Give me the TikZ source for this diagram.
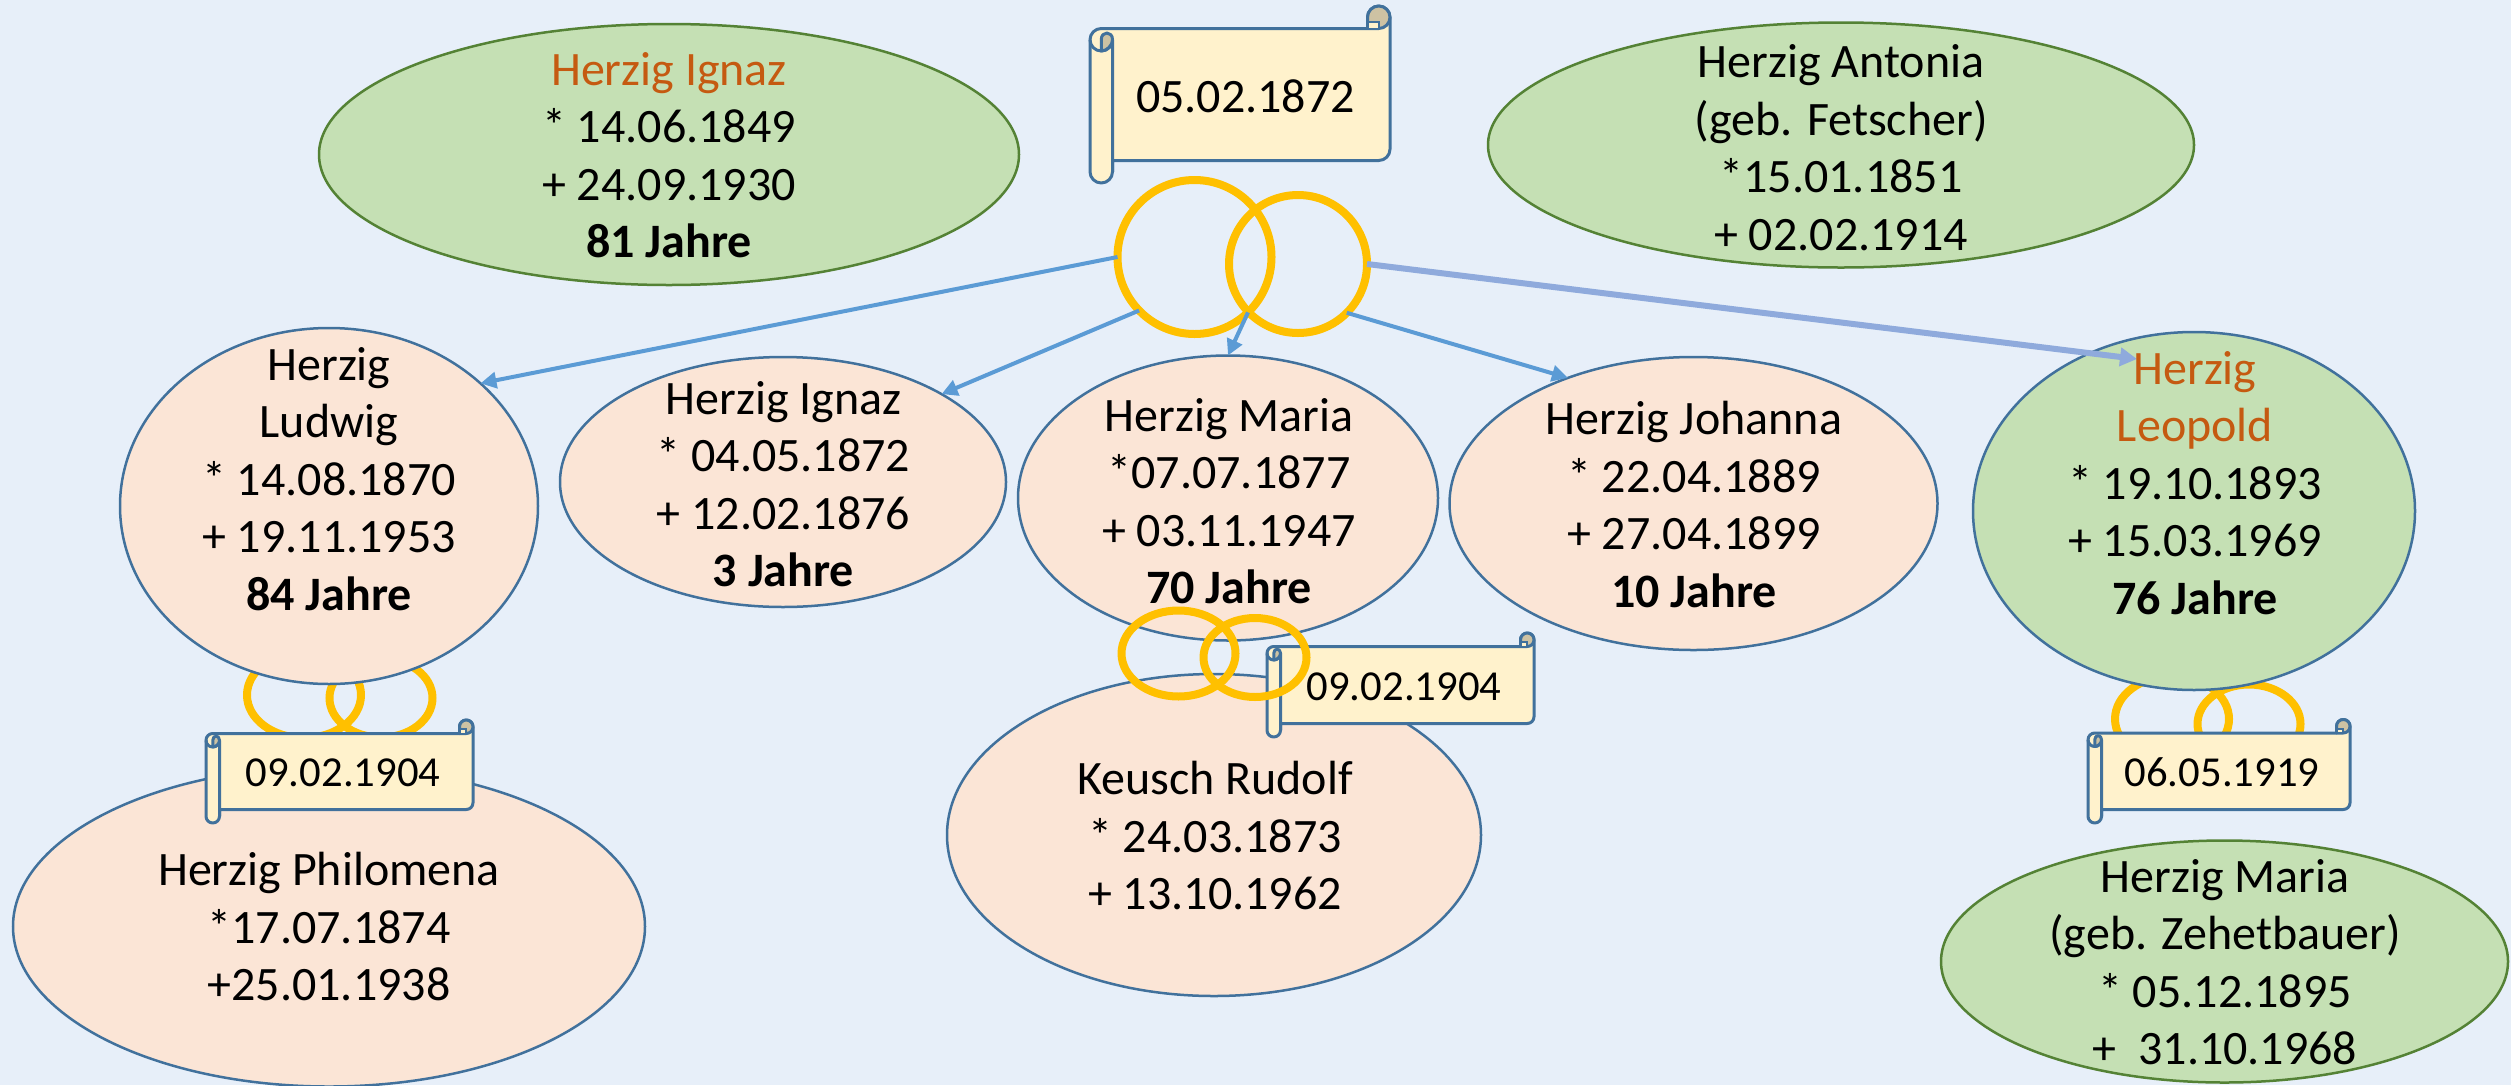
\documentclass[tikz,border=0pt]{standalone}
\usepackage{fontspec}
\setmainfont{Carlito}
\usetikzlibrary{shapes.geometric,arrows.meta}
\definecolor{bgc}{HTML}{E7EFF9}
\definecolor{peach}{HTML}{FBE5D6}
\definecolor{leaf}{HTML}{C5E0B4}
\definecolor{bluedge}{HTML}{41719C}
\definecolor{greenedge}{HTML}{548235}
\definecolor{ringc}{HTML}{FFC000}
\definecolor{arrowc}{HTML}{5B9BD5}
\definecolor{arrowd}{HTML}{8FAADC}
\definecolor{paper}{HTML}{FFF2CC}
\definecolor{paperd}{HTML}{CDC2A3}
\definecolor{orangec}{HTML}{C55A11}
\tikzset{
 ell/.style={ellipse,draw=bluedge,inner sep=0pt,outer sep=0pt,line width=2.5pt},
 pe/.style={ell,fill=peach},
 gr/.style={ell,fill=leaf},
 gre/.style={ell,fill=leaf,draw=greenedge},
 ring/.style={ellipse,draw=ringc,inner sep=0pt,outer sep=0pt,line width=#1},
 ring/.default=8pt,
 lbl/.style={align=center,inner sep=0pt,font=\fontsize{48}{57.5}\selectfont},
 datel/.style={inner sep=0pt,font=\fontsize{42.7}{50}\selectfont},
 conn/.style={draw=arrowc,line width=4pt,-{Triangle[length=16pt,width=16pt]}},
 connb/.style={draw=arrowd,line width=6pt,-{Triangle[length=17pt,width=18pt]}},
 scr/.style={draw=bluedge,line width=3pt,line join=round},
}
% L t R b a : bounding box and roll size
\newcommand{\scrollpaper}[5]{%
 \begingroup
 \pgfmathsetmacro{\sL}{#1}\pgfmathsetmacro{\stt}{#2}\pgfmathsetmacro{\sR}{#3}\pgfmathsetmacro{\sbb}{#4}\pgfmathsetmacro{\sa}{#5}%
 \pgfmathsetmacro{\sh}{\sa/2}\pgfmathsetmacro{\sk}{0.276*\sa}%
 \pgfmathsetmacro{\sT}{\stt+\sa}\pgfmathsetmacro{\sB}{\sbb-\sa}%
 \path[scr,fill=paper] (\sR-\sa,\sT) -- (\sR-\sa,\stt+\sh) .. controls (\sR-\sa,\stt+\sh-\sk) and (\sR-\sh-\sk,\stt) .. (\sR-\sh,\stt)
  .. controls (\sR-\sh+\sk,\stt) and (\sR,\stt+\sh-\sk) .. (\sR,\stt+\sh) -- (\sR,\sB-\sh)
  .. controls (\sR,\sB-\sh+\sk) and (\sR-\sh+\sk,\sB) .. (\sR-\sh,\sB) -- (\sL+\sa,\sB) -- (\sL+\sa,\sbb-\sh)
  .. controls (\sL+\sa,\sbb-\sh+\sk) and (\sL+\sh+\sk,\sbb) .. (\sL+\sh,\sbb)
  .. controls (\sL+\sh-\sk,\sbb) and (\sL,\sbb-\sh+\sk) .. (\sL,\sbb-\sh) -- (\sL,\sT+\sh)
  .. controls (\sL,\sT+\sh-\sk) and (\sL+\sh-\sk,\sT) .. (\sL+\sh,\sT) -- cycle;
 % right roll
 \path[scr,fill=paperd] (\sR-\sa,\sT) -- (\sR-\sa,\stt+\sh) .. controls (\sR-\sa,\stt+\sh-\sk) and (\sR-\sh-\sk,\stt) .. (\sR-\sh,\stt)
  .. controls (\sR-\sh+\sk,\stt) and (\sR,\stt+\sh-\sk) .. (\sR,\stt+\sh)
  .. controls (\sR,\stt+\sh+\sk) and (\sR-\sh+\sk,\sT) .. (\sR-\sh,\sT) -- cycle;
 \path[draw=bluedge,line width=2pt,fill=paper] (\sR-\sa,\sT) -- (\sR-\sa,\stt+.7*\sa) -- (\sR-\sh,\stt+.7*\sa) -- (\sR-\sh,\sT) -- cycle;
 % left roll
 \path[scr] (\sL,\sT+\sh) .. controls (\sL,\sT+\sh+\sk) and (\sL+\sh-\sk,\sT+\sa) .. (\sL+\sh,\sT+\sa)
  .. controls (\sL+\sh+\sk,\sT+\sa) and (\sL+\sa,\sT+\sh+\sk) .. (\sL+\sa,\sT+\sh) -- (\sL+\sa,\sbb-\sh);
 \path[scr,fill=paperd] (\sL+\sh,\sT+\sa) -- (\sL+\sh,\sT+.5*\sa) .. controls (\sL+\sh,\sT+.3*\sa) and (\sL+.62*\sa,\sT+.2*\sa) .. (\sL+.75*\sa,\sT+.2*\sa)
  .. controls (\sL+.88*\sa,\sT+.2*\sa) and (\sL+\sa,\sT+.3*\sa) .. (\sL+\sa,\sT+.5*\sa)
  .. controls (\sL+\sa,\sT+.75*\sa) and (\sL+.75*\sa,\sT+\sa) .. (\sL+\sh,\sT+\sa) -- cycle;
 \endgroup
}
\begin{document}
\begin{tikzpicture}[x=1pt,y=-1pt]
\useasboundingbox (0,0) rectangle (2511,1085);
\fill[bgc] (0,0) rectangle (2511,1085);

% rings hidden behind the ellipses and scrolls
\node[ring,minimum width=114pt,minimum height=86pt] (ludL) at (304,695) {};
\node[ring,minimum width=103pt,minimum height=79pt] (ludR) at (381,698) {};
\node[ring,minimum width=114pt,minimum height=86pt] (leoL) at (2172,719) {};
\node[ring,minimum width=103pt,minimum height=79pt] (leoR) at (2249,724) {};

% top parents
\node[gre,minimum width=700pt,minimum height=261pt] (ignaz) at (669,154.5) {};
\node[gre,minimum width=706pt,minimum height=245pt] (antonia) at (1841,145) {};
\node[lbl] (ignazT) at (669,155) {\textcolor{orangec}{Herzig Ignaz}\\* 14.06.1849\\+ 24.09.1930\\\textbf{81 Jahre}};
\node[lbl] (antoniaT) at (1841,147.5) {Herzig Antonia\\(geb. Fetscher)\\*15.01.1851\\+ 02.02.1914};

% children
\node[pe,minimum width=418pt,minimum height=356pt] (ludwig) at (329,506) {};
\node[pe,minimum width=446pt,minimum height=250pt] (ignazk) at (783,482) {};
\node[pe,minimum width=632pt,minimum height=320pt] (philo) at (329,926.5) {};
\node[pe,minimum width=420pt,minimum height=285pt] (maria) at (1228,498) {};
\node[pe,minimum width=534pt,minimum height=322pt] (keusch) at (1214,835) {};
\node[pe,minimum width=488pt,minimum height=293pt] (johanna) at (1693.5,503.5) {};
\node[gr,minimum width=442pt,minimum height=358pt] (leopold) at (2194,511) {};
\node[gre,minimum width=567pt,minimum height=242pt] (mariaz) at (2224.5,961.5) {};

% scrolls
\scrollpaper{1090}{6}{1390}{183}{22.5}
\scrollpaper{206}{720}{473}{823}{13.5}
\scrollpaper{1267}{633}{1534}{737}{13.5}
\scrollpaper{2088}{719.5}{2350}{823}{13.5}

% main rings
\node[ring,minimum width=154pt,minimum height=154pt] (ringL) at (1194.5,257) {};
\node[ring,minimum width=138pt,minimum height=138pt] (ringR) at (1298,264) {};
% Maria's rings
\node[ring,minimum width=114pt,minimum height=86pt] (marL) at (1178.5,653.5) {};
\node[ring,minimum width=103pt,minimum height=79pt] (marR) at (1255,657.5) {};

% connectors
\coordinate (leoTip) at (2137,359);
\draw[conn] (ringL.180) -- (ludwig.39.7);
\draw[conn] (ringL.224) -- (ignazk.29.3);
\draw[conn] (ringL.314) -- (maria.90);
\draw[conn] (ringR.315.6) -- (johanna.135.4);
\draw[connb] (ringR.0) -- (leoTip);

% labels
\node[lbl] (ludwigT) at (329,479) {Herzig\\Ludwig\\* 14.08.1870\\+ 19.11.1953\\\textbf{84 Jahre}};
\node[lbl] (ignazkT) at (783.5,484) {Herzig Ignaz\\* 04.05.1872\\+ 12.02.1876\\\textbf{3 Jahre}};
\node[lbl] (mariaT) at (1229,501) {Herzig Maria\\*07.07.1877\\+ 03.11.1947\\\textbf{70 Jahre}};
\node[lbl] (johannaT) at (1694,504.5) {Herzig Johanna\\* 22.04.1889\\+ 27.04.1899\\\textbf{10 Jahre}};
\node[lbl] (leopoldT) at (2195,483) {\textcolor{orangec}{Herzig}\\\textcolor{orangec}{Leopold}\\* 19.10.1893\\+ 15.03.1969\\\textbf{76 Jahre}};
\node[lbl] (philoT) at (329,927) {Herzig Philomena\\*17.07.1874\\+25.01.1938};
\node[lbl] (keuschT) at (1215,836) {Keusch Rudolf\\* 24.03.1873\\+ 13.10.1962};
\node[lbl] (mariazT) at (2225,962) {Herzig Maria\\(geb. Zehetbauer)\\* 05.12.1895\\+\ \ 31.10.1968};

% dates
\node[lbl] (d1) at (1245.5,96) {05.02.1872};
\node[datel] (d2) at (343,772.5) {09.02.1904};
\node[datel] (d3) at (1404,686.5) {09.02.1904};
\node[datel] (d4) at (2222,772.5) {06.05.1919};
\end{tikzpicture}
\end{document}
